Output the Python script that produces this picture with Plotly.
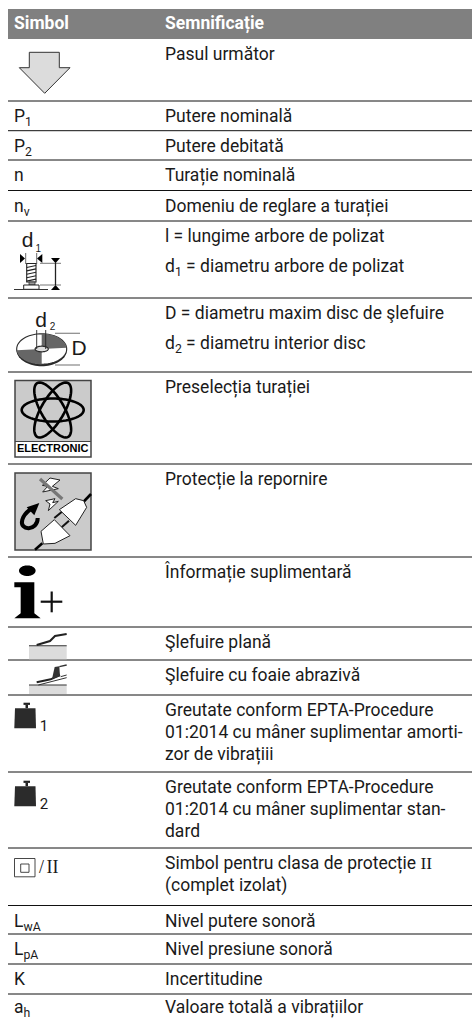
import math
import plotly.graph_objects as go

# ---- table content ----
header = ["Simbol", "Semnificație"]
SERIF_II = '<span style="font-family:Liberation Serif">II</span>'
symbols = ["", "P<sub>1</sub>", "P<sub>2</sub>", "n", "n<sub>v</sub>", "", "", "", "", "", "", "", "", "", "",
           "L<sub>wA</sub>", "L<sub>pA</sub>", "K", "a<sub>h</sub>"]
meanings = [
    ["Pasul următor"],
    ["Putere nominală"],
    ["Putere debitată"],
    ["Turație nominală"],
    ["Domeniu de reglare a turației"],
    ["l = lungime arbore de polizat", "d<sub>1</sub> = diametru arbore de polizat"],
    ["D = diametru maxim disc de şlefuire", "d<sub>2</sub> = diametru interior disc"],
    ["Preselecția turației"],
    ["Protecție la repornire"],
    ["Înformație suplimentară"],
    ["Şlefuire plană"],
    ["Şlefuire cu foaie abrazivă"],
    ["Greutate conform EPTA-Procedure", "01:2014 cu mâner suplimentar amorti-", "zor de vibrațiii"],
    ["Greutate conform EPTA-Procedure", "01:2014 cu mâner suplimentar stan-", "dard"],
    ["Simbol pentru clasa de protecție " + SERIF_II, "(complet izolat)"],
    ["Nivel putere sonoră"],
    ["Nivel presiune sonoră"],
    ["Incertitudine"],
    ["Valoare totală a vibrațiilor"],
]

# ---- page layout (pixels) ----
W, H = 472, 1020
row_tops = [39, 101, 130.7, 160, 190.5, 221, 298, 372, 464, 557, 627, 660, 695, 772, 848, 905.5, 934, 964, 994]
two_para_rows = {5, 6}
FONT = "Roboto"
FS = 17.5
TXT = "#1a1a1a"
DARK = "#2b2b2b"
GREY = "#cbcbcb"
LIGHT = "#dcdcdc"

shapes = []


def first_line_y(i):
    return row_tops[i] + (15 if i == len(row_tops) - 1 else 17)


def raw(d, fill=None, line=None, lw=1.0):
    shapes.append(dict(type="path", path=d, xref="x", yref="y", layer="below",
                       fillcolor=fill if fill else "rgba(0,0,0,0)",
                       line=dict(color=line if line else "rgba(0,0,0,0)", width=lw if line else 0)))


def poly(pts, fill=None, line=None, lw=1.0, close=True):
    raw("M " + " L ".join(f"{x:.2f},{y:.2f}" for x, y in pts) + (" Z" if close else ""), fill, line, lw)


def rect(x0, y0, x1, y1, fill=None, line=None, lw=1.0):
    shapes.append(dict(type="rect", x0=x0, y0=y0, x1=x1, y1=y1, xref="x", yref="y", layer="below",
                       fillcolor=fill if fill else "rgba(0,0,0,0)",
                       line=dict(color=line if line else "rgba(0,0,0,0)", width=lw if line else 0)))


def seg(x0, y0, x1, y1, color=DARK, lw=1.0):
    shapes.append(dict(type="line", x0=x0, y0=y0, x1=x1, y1=y1, xref="x", yref="y", layer="below",
                       line=dict(color=color, width=lw)))


def ellipse_pts(cx, cy, rx, ry, rot=0.0, a0=0.0, a1=360.0, n=72):
    out = []
    r = math.radians(rot)
    for i in range(n + 1):
        t = math.radians(a0 + (a1 - a0) * i / n)
        x, y = rx * math.cos(t), ry * math.sin(t)
        out.append((cx + x * math.cos(r) - y * math.sin(r), cy + x * math.sin(r) + y * math.cos(r)))
    return out


def zm(ox, oy, pts):
    return [(ox + x / 3, oy + y / 3) for x, y in pts]


# header band and rules
rect(8, 9, W, 39, fill="#808080")
for y in row_tops[1:]:
    seg(8, y, W, y, color="#111111", lw=1)

extra_text = []


def lab(x, y, t, size=20, family="Liberation Sans", color=TXT, weight="normal"):
    extra_text.append((x, y, t, size, family, color, weight))


# arrow
poly([(29.3, 52.3), (59.3, 52.3), (59.3, 67.7), (70, 67.7), (44.7, 93.3), (19.3, 67.7), (29.3, 67.7)],
     fill=LIGHT, line="#333333", lw=1)

# d1 icon
lab(27.7, 242, "d", 21)
lab(38.3, 249, "1", 10)
poly([(20, 254), (25, 258.5), (20, 263)], fill="#000000")
poly([(42.3, 254), (37, 258.5), (42.3, 263)], fill="#000000")
seg(25.7, 253, 25.7, 264, "#444444", 0.8)
seg(36.7, 253, 36.7, 264, "#444444", 0.8)
rect(26.7, 263.5, 36, 282, fill="#ffffff", line="#222222", lw=1.1)
for k in range(5):
    yy = 266.5 + k * 3.4
    seg(26.7, yy + 1, 36, yy - 1, "#222222", 1.1)
rect(29, 282, 35, 285, fill="#999999", line="#333333", lw=0.8)
rect(23.7, 285, 39, 289.3, fill="#ffffff", line="#222222", lw=1)
seg(14, 289.5, 48, 289.5, "#333333", 1)
seg(40, 263.3, 61, 263.3, "#777777", 1)
seg(40, 285, 61, 285, "#777777", 1)
poly([(51, 258), (60, 258), (55.5, 263.3)], fill="#000000")
poly([(51, 290), (60, 290), (55.5, 285)], fill="#000000")
seg(55.5, 263, 55.5, 285, "#222222", 1.3)

# disc icon
poly(ellipse_pts(41.7, 350.5, 25, 15.7), fill=DARK)
poly(ellipse_pts(41.7, 349, 25, 15.2), fill="#ffffff", line=DARK, lw=1.1)
poly([(41.7, 349)] + ellipse_pts(41.7, 349, 25, 15.2, a0=-90, a1=-5, n=24), fill="#666666")
poly([(41.7, 349)] + ellipse_pts(41.7, 349, 25, 15.2, a0=90, a1=175, n=24), fill="#666666")
poly(ellipse_pts(41.7, 349, 6.6, 2.8), fill="#dddddd", line=DARK, lw=1.2)
seg(36.7, 330, 36.7, 349, "#222222", 0.9)
seg(45.7, 330, 45.7, 349, "#222222", 0.9)
seg(55, 333.3, 80, 333.3, "#888888", 1.2)
seg(55, 365, 80, 365, "#888888", 1.2)
lab(41, 321.5, "d", 21)
lab(52.5, 327, "2", 10)
lab(79, 349.3, "D", 21)

# electronic icon
rect(15, 380.5, 91, 441.5, fill=GREY)
rect(15, 441.5, 91, 457, fill="#ffffff")
rect(15, 380.5, 91, 457, line="#444444", lw=1.5)
seg(15, 441.5, 91, 441.5, "#444444", 1.2)
for a in (0, 60, 120):
    poly(ellipse_pts(52.7, 410, 31, 11.5, rot=a), line="#000000", lw=2.6)
lab(52.7, 449, "ELECTRONIC", 11, "Liberation Sans", "#000000", "bold")

# plug icon
rect(15, 473, 91, 550, fill=GREY, line="#444444", lw=1.5)
ox, oy = 5, 468
poly(zm(ox, oy, [(135, 30), (112, 52), (128, 55), (113, 72), (160, 62), (142, 55), (165, 36)]),
     fill="#ffffff", line="#222222", lw=1)
poly(zm(ox, oy, [(122, 98), (150, 92), (143, 104), (160, 100), (130, 128), (135, 108)]),
     fill="#ffffff", line="#222222", lw=1)
seg(*zm(ox, oy, [(105, 33)])[0], *zm(ox, oy, [(172, 93)])[0], "#777777", 3.2)
px = zm(ox, oy, [(98, 150), (98, 190), (42, 190), (52, 155), (55, 145), (62, 135), (75, 125)])
raw(f"M {px[0][0]:.1f},{px[0][1]:.1f} C {px[1][0]:.1f},{px[1][1]:.1f} {px[2][0]:.1f},{px[2][1]:.1f} {px[3][0]:.1f},{px[3][1]:.1f} "
    f"C {px[4][0]:.1f},{px[4][1]:.1f} {px[5][0]:.1f},{px[5][1]:.1f} {px[6][0]:.1f},{px[6][1]:.1f}", line="#000000", lw=4)
poly(zm(ox, oy, [(65, 118), (103, 105), (88, 142)]), fill="#000000")
seg(*zm(ox, oy, [(235, 102)])[0], *zm(ox, oy, [(258, 78)])[0], "#000000", 2.6)
poly(zm(ox, oy, [(163, 125), (212, 92), (236, 98), (245, 118), (212, 172)]), fill="#ffffff", line="#222222", lw=1)
seg(*zm(ox, oy, [(148, 150)])[0], *zm(ox, oy, [(170, 132)])[0], "#111111", 2)
seg(*zm(ox, oy, [(170, 178)])[0], *zm(ox, oy, [(192, 158)])[0], "#111111", 2)
poly(zm(ox, oy, [(108, 190), (148, 155), (195, 203), (150, 226), (115, 228)]), fill="#ffffff", line="#222222", lw=1)
seg(*zm(ox, oy, [(112, 226)])[0], *zm(ox, oy, [(90, 245)])[0], "#000000", 2.6)

# information icon
poly(ellipse_pts(27.3, 570.7, 8.3, 5.3), fill="#000000")
poly(zm(0, 500, [(43, 247), (103, 247), (103, 340), (122, 355), (43, 355), (62, 340), (62, 262), (43, 262)]),
     fill="#000000")
seg(40.7, 601.7, 62.3, 601.7, "#111111", 2.2)
seg(51.7, 591.5, 51.7, 612.3, "#111111", 2.2)

# flat grinding icons
rect(29, 645.7, 66.7, 659.3, fill=LIGHT)
seg(29, 645.7, 66.7, 645.7, "#333333", 1.1)
poly(zm(20, 625, [(50, 60), (90, 48), (105, 33), (140, 27)]), line="#222222", lw=2, close=False)
rect(29, 685, 66.7, 694, fill=LIGHT)
seg(29, 685, 66.7, 685, "#333333", 1.1)
poly(zm(20, 625, [(50, 172), (92, 163), (120, 150)]), line="#222222", lw=2, close=False)
poly(zm(20, 625, [(96, 162), (104, 126), (118, 124), (120, 154)]), fill="#333333")
seg(*zm(20, 625, [(118, 125)])[0], *zm(20, 625, [(140, 120)])[0], "#333333", 1.3)
seg(*zm(20, 625, [(122, 155)])[0], *zm(20, 625, [(140, 150)])[0], "#333333", 1)
seg(*zm(20, 625, [(55, 180)])[0], *zm(20, 625, [(140, 158)])[0], "#333333", 1)

# weights
for top, sub in ((702.7, "1"), (780.7, "2")):
    rect(23.5, top, 30, top + 2.2, fill="#222222")
    rect(25.5, top + 2, 28, top + 5.5, fill="#222222")
    poly([(15, top + 5.5), (35.5, top + 5.5), (36, top + 25.5), (14.3, top + 25.5)], fill="#2b2b2b")
    lab(44, top + 24.5, sub, 15, FONT, TXT)

# protection class II
rect(14.5, 858.5, 35, 876.8, line="#333333", lw=0.9)
rect(20.7, 864, 29, 872.3, line="#333333", lw=0.9)
lab(41.5, 868, "/", 18, "Liberation Serif")
lab(52.5, 868, "II", 18, "Liberation Serif")

# ---- text from the lists ----
xs, ys, ts = [], [], []
for i, lines in enumerate(meanings):
    step = 30 if i in two_para_rows else 21.6
    for j, t in enumerate(lines):
        xs.append(165)
        ys.append(first_line_y(i) + j * step)
        ts.append(t)

fig = go.Figure()
fig.add_trace(go.Scatter(x=xs, y=ys, text=ts, mode="text", textposition="middle right",
                         textfont=dict(family=FONT, size=FS, color=TXT), cliponaxis=False,
                         hoverinfo="skip", showlegend=False))
sx = [14 for s in symbols if s]
sy = [first_line_y(i) for i, s in enumerate(symbols) if s]
fig.add_trace(go.Scatter(x=sx, y=sy, text=[s for s in symbols if s], mode="text", textposition="middle right",
                         textfont=dict(family=FONT, size=FS, color=TXT), cliponaxis=False,
                         hoverinfo="skip", showlegend=False))
fig.add_trace(go.Scatter(x=[14, 165], y=[25, 25], text=header, mode="text",
                         textposition="middle right",
                         textfont=dict(family=FONT, size=FS, color="#ffffff", weight="bold"),
                         cliponaxis=False, hoverinfo="skip", showlegend=False))
for x, y, t, size, family, color, weight in extra_text:
    fig.add_trace(go.Scatter(x=[x], y=[y], text=[t], mode="text", textposition="middle center",
                             textfont=dict(family=family, size=size, color=color, weight=weight), cliponaxis=False,
                             hoverinfo="skip", showlegend=False))

fig.update_layout(width=W, height=H, margin=dict(l=0, r=0, t=0, b=0),
                  paper_bgcolor="#ffffff", plot_bgcolor="#ffffff", shapes=shapes, showlegend=False,
                  xaxis=dict(range=[0, W], visible=False, fixedrange=True),
                  yaxis=dict(range=[H, 0], visible=False, fixedrange=True))
fig.write_html("out.html", config=dict(displayModeBar=False),
               post_script="document.body.style.margin='0';document.documentElement.style.overflow='hidden';")
